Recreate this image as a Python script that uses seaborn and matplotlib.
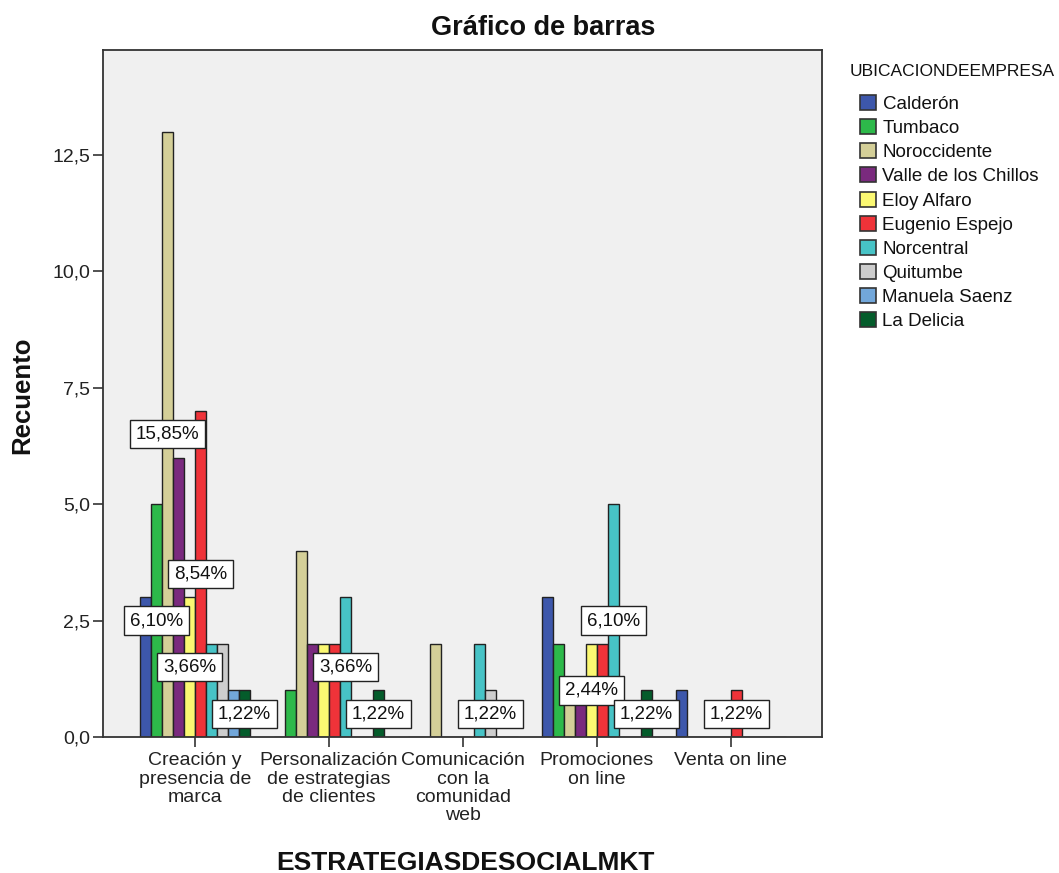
import matplotlib
matplotlib.use("Agg")
import matplotlib.pyplot as plt
import seaborn as sns
import pandas as pd
import numpy as np

categories = [
    "Creación y\npresencia de\nmarca",
    "Personalización\nde estrategias\nde clientes",
    "Comunicación\ncon la\ncomunidad\nweb",
    "Promociones\non line",
    "Venta on line",
]
series = ["Calderón", "Tumbaco", "Noroccidente", "Valle de los Chillos", "Eloy Alfaro",
          "Eugenio Espejo", "Norcentral", "Quitumbe", "Manuela Saenz", "La Delicia"]
calderon = [3, 0, 0, 3, 1]
tumbaco = [5, 1, 0, 2, 0]
noroccidente = [13, 4, 2, 1, 0]
valle = [6, 2, 0, 1, 0]
eloy = [3, 2, 0, 2, 0]
eugenio = [7, 2, 0, 2, 1]
norcentral = [2, 3, 2, 5, 0]
quitumbe = [2, 0, 1, 0, 0]
manuela = [1, 0, 0, 0, 0]
delicia = [1, 1, 0, 1, 0]
# bars that carry a visible percentage label (category index, series index)
labelled = [(0, 2), (0, 5), (0, 1), (0, 4), (0, 9),
            (1, 6), (1, 9), (2, 7), (3, 6), (3, 4), (3, 9), (4, 5)]

colors = ["#3d57ab", "#2db94a", "#d4cf98", "#7a2a7e", "#fbf872",
          "#ef3339", "#47c3c6", "#cdcdcd", "#72a7da", "#045c2b"]

values = [calderon, tumbaco, noroccidente, valle, eloy, eugenio, norcentral,
          quitumbe, manuela, delicia]
rows = []
for s, vals in zip(series, values):
    for c, v in zip(categories, vals):
        rows.append({"cat": c, "loc": s, "n": v})
df = pd.DataFrame(rows)
total = df["n"].sum()

sns.set_theme(style="white")
plt.rcParams["font.family"] = ["Liberation Sans", "DejaVu Sans"]

fig = plt.figure(figsize=(10.59, 8.73), dpi=100)
ax = fig.add_axes([103 / 1059, 1 - 737 / 873, (822 - 103) / 1059, (737 - 50) / 873])
ax.set_facecolor("#f0f0f0")

sns.barplot(data=df, x="cat", y="n", hue="loc", order=categories, hue_order=series,
            palette=colors, saturation=1, width=0.82, edgecolor="#222222", linewidth=1.0,
            ax=ax, legend=True, errorbar=None)

ax.set_ylim(0, 14.75)
ax.set_xlim(-0.687, 4.68)
ax.set_yticks([0, 2.5, 5, 7.5, 10, 12.5])
ax.set_yticklabels(["0,0", "2,5", "5,0", "7,5", "10,0", "12,5"], fontsize=14)
ax.set_xticks(range(len(categories)))
ax.set_xticklabels(categories, fontsize=14, linespacing=1.1)
ax.tick_params(axis="both", direction="out", length=7, width=1.2, color="#333333",
               bottom=True, left=True, labelcolor="#222222", pad=2)
ax.tick_params(axis="x", pad=4)
for sp in ax.spines.values():
    sp.set_color("#333333")
    sp.set_linewidth(1.3)
ax.set_xlabel("")
ax.set_ylabel("")

# percentage labels at bar mid-height
containers = ax.containers
for ci, si in labelled:
    patch = containers[si].patches[ci]
    v = values[si][ci]
    txt = f"{100 * v / total:.2f}%".replace(".", ",")
    ax.text(patch.get_x() + patch.get_width() / 2, v / 2, txt, ha="center", va="center",
            fontsize=13.5, color="#111111",
            bbox=dict(boxstyle="square,pad=0.3", fc="white", ec="#222222", lw=1.0))

fig.text(543 / 1059, 1 - 28 / 873, "Gráfico de barras", ha="center", va="center",
         fontsize=19.5, fontweight="bold", color="#111111")
fig.text(22 / 1059, 1 - 395 / 873, "Recuento", ha="center", va="center", rotation=90,
         fontsize=18.5, fontweight="bold", color="#111111")
fig.text(465 / 1059, 1 - 863 / 873, "ESTRATEGIASDESOCIALMKT", ha="center", va="center",
         fontsize=19, fontweight="bold", color="#111111")
fig.text(850 / 1059, 1 - 72 / 873, "UBICACIONDEEMPRESA", ha="left", va="center",
         fontsize=12.5, color="#111111")

leg = ax.legend(loc="upper left",
                bbox_to_anchor=(860 / 1059, 1 - 95 / 873), bbox_transform=fig.transFigure,
                frameon=False, fontsize=13.5, handlelength=0.85,
                handleheight=0.85, handletextpad=0.35, labelspacing=0.33,
                borderaxespad=0, borderpad=0)
for h in leg.legend_handles:
    h.set_edgecolor("#333333")
    h.set_linewidth(1.2)
for t in leg.get_texts():
    t.set_color("#111111")

fig.savefig("out.png", dpi=100, facecolor="white")
